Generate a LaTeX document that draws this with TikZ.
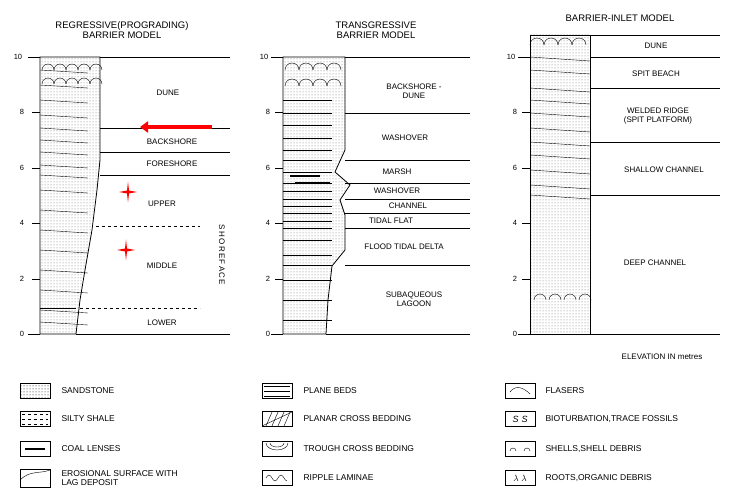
\documentclass[tikz,border=0pt]{standalone}
\usepackage{fontspec}
\setmainfont{Liberation Sans}
\usetikzlibrary{patterns,arrows.meta}
\begin{document}
\begin{tikzpicture}[x=1pt,y=-1pt,
  lbl/.style={font=\fontsize{8}{9.5}\selectfont,align=center},
  ttl/.style={font=\fontsize{9.5}{10.5}\selectfont,align=center},
  tk/.style={font=\fontsize{7.5}{8}\selectfont},
  lg/.style={draw,minimum width=30pt,minimum height=15pt,inner sep=0pt},
  lgt/.style={font=\fontsize{8.5}{9.5}\selectfont,anchor=west,align=left},
  logb/.style={draw,thick,pattern=dots,pattern color=black!55},
  bed/.style={thin}]
\useasboundingbox (0,0) rectangle (734,497);
\fill[white] (0,0) rectangle (734,497);
% titles
\node[ttl] (t1) at (122,30) {REGRESSIVE(PROGRADING)\\BARRIER MODEL};
\node[ttl] (t2) at (376,30) {TRANSGRESSIVE\\BARRIER MODEL};
\node[ttl] (t3) at (620,18) {BARRIER-INLET MODEL};
% ===== column 1 =====
\draw[logb] (40,334) -- (40,57) -- (100,57) -- (100,160) -- (97,190) -- (92,230) -- (85,270) -- (80,300) -- (76,334) -- cycle;
\foreach \y in {70,85,100,115,128,140,152,165,175,190,210,230,250,270,290,310,322}{\draw[bed] (40,\y) -- (88,\y+3);}
\foreach \x in {48,60,72,84,96}{\draw (\x-6,70) arc (180:360:6);}
\foreach \x in {48,60,72,84,96}{\draw (\x-6,84) arc (180:360:6);}
\draw (40,308) -- (76,308);
\draw (40,57) -- (28,57) (40,112) -- (32,112) (40,168) -- (32,168) (40,223) -- (32,223) (40,279) -- (32,279) (40,334) -- (28,334);
\node[tk] (a10) at (18,57) {10};\node[tk] (a8) at (22,112) {8};\node[tk] (a6) at (22,168) {6};
\node[tk] (a4) at (22,223) {4};\node[tk] (a2) at (22,279) {2};\node[tk] (a0) at (22,334) {0};
\foreach \y in {57,128,152,175}{\draw (100,\y) -- (230,\y);}
\draw[dashed] (96,226) -- (200,226);
\draw[dashed] (80,308) -- (200,308);
\draw (76,334) -- (230,334);
\node[lbl] (d1) at (168,93) {DUNE};
\node[lbl] (bs) at (172,142) {BACKSHORE};
\node[lbl] (fs) at (172,164) {FORESHORE};
\node[lbl] (up) at (162,204) {UPPER};
\node[lbl] (mi) at (162,266) {MIDDLE};
\node[lbl] (lo) at (162,323) {LOWER};
\node[lbl,rotate=-90] (sf) at (222,255) {S\,H\,O\,R\,E\,F\,A\,C\,E};
\draw[red,line width=3.5pt,-{Triangle[length=8pt,width=11pt]}] (212,127) -- (140,127);
\foreach \p in {(128,192),(126,250)}{
 \fill[red] \p ++(-9,0) -- ++(8,-1.5) -- ++(1,-9) -- ++(1,9) -- ++(8,1.5) -- ++(-8,1.5) -- ++(-1,9) -- ++(-1,-9) -- cycle;}
% ===== column 2 =====
\draw[logb] (283,334) -- (283,57) -- (345,57) -- (345,150) -- (335,172) -- (350,185) -- (340,200) -- (345,215) -- (345,250) -- (332,266) -- (328,300) -- (326,334) -- cycle;
\foreach \x in {292,306,320,334}{\draw (\x-7,70) arc (180:360:7);}
\foreach \x in {292,306,320,334}{\draw (\x-7,86) arc (180:360:7);}
\foreach \y in {100,113,125,138,150,160,172,183,191,199,206,213,221,228,240,255,265,280,300,320}{\draw[bed] (283,\y) -- (332,\y);}
\draw[line width=2pt] (290,176) -- (320,176) (295,183) -- (330,183);
\draw (283,57) -- (271,57) (283,112) -- (275,112) (283,168) -- (275,168) (283,223) -- (275,223) (283,279) -- (275,279) (283,334) -- (271,334);
\node[tk] (b10) at (264,57) {10};\node[tk] (b8) at (268,112) {8};\node[tk] (b6) at (268,168) {6};
\node[tk] (b4) at (268,223) {4};\node[tk] (b2) at (268,279) {2};\node[tk] (b0) at (268,334) {0};
\foreach \y in {57,113,160,199,213,228,265}{\draw (345,\y) -- (470,\y);}
\draw (345,183) -- (470,183);
\draw (326,334) -- (470,334);
\node[lbl] (bd) at (414,91) {BACKSHORE -\\DUNE};
\node[lbl] (wo1) at (405,138) {WASHOVER};
\node[lbl] (ma) at (397,172) {MARSH};
\node[lbl] (wo2) at (397,191) {WASHOVER};
\node[lbl] (ch) at (408,206) {CHANNEL};
\node[lbl] (tf) at (391,221) {TIDAL FLAT};
\node[lbl] (ftd) at (404,247) {FLOOD TIDAL DELTA};
\node[lbl] (sl) at (414,299) {SUBAQUEOUS\\LAGOON};
% ===== column 3 =====
\draw[logb] (530,334) -- (530,35) -- (590,35) -- (590,334) -- cycle;
\foreach \x in {537,551,565,579}{\draw (\x-7,45) arc (180:360:7);}
\foreach \y in {57,70,88,100,113,128,142,155,170,185,195}{\draw[bed] (530,\y) -- (590,\y+4);}
\foreach \x in {540,555,570,585}{\draw (\x-6,300) arc (180:360:6);}
\draw (530,57) -- (518,57) (530,112) -- (522,112) (530,168) -- (522,168) (530,223) -- (522,223) (530,279) -- (522,279) (530,334) -- (518,334);
\node[tk] (c10) at (511,57) {10};\node[tk] (c8) at (515,112) {8};\node[tk] (c6) at (515,168) {6};
\node[tk] (c4) at (515,223) {4};\node[tk] (c2) at (515,279) {2};\node[tk] (c0) at (515,334) {0};
\foreach \y in {35,57,88,142,195,334}{\draw (590,\y) -- (720,\y);}
\node[lbl] (du3) at (656,46) {DUNE};
\node[lbl] (sb) at (656,74) {SPIT BEACH};
\node[lbl] (wr) at (658,116) {WELDED RIDGE\\(SPIT PLATFORM)};
\node[lbl] (sc) at (664,170) {SHALLOW CHANNEL};
\node[lbl] (dc) at (655,263) {DEEP CHANNEL};
\node[lbl] (el) at (662,357) {ELEVATION IN metres};
% ===== legend =====
\node[lg,pattern=dots] (l1) at (35,391) {};\node[lgt] (l1t) at (58,391) {SANDSTONE};
\node[lg] (l2) at (35,419) {};\foreach \y in {414,419,424}{\draw[dashed] (22,\y) -- (48,\y);}
\node[lgt] (l2t) at (58,419) {SILTY SHALE};
\node[lg] (l3) at (35,449) {};\draw[line width=2.5pt] (25,449) -- (45,449);\node[lgt] (l3t) at (58,449) {COAL LENSES};
\node[lg,minimum height=18pt] (l4) at (35,478) {};\draw (20,480) .. controls (30,470) and (40,474) .. (50,470);
\node[lgt] (l4t) at (58,478) {EROSIONAL SURFACE WITH\\LAG DEPOSIT};
\node[lg] (m1) at (277,391) {};\foreach \y in {386,391,396}{\draw (264,\y) -- (290,\y);}\node[lgt] (m1t) at (300,391) {PLANE BEDS};
\node[lg] (m2) at (277,419) {};\foreach \x in {266,272,278,284}{\draw (\x,426) -- (\x+6,412);}\draw (262,426) -- (292,412);
\node[lgt] (m2t) at (300,419) {PLANAR CROSS BEDDING};
\node[lg] (m3) at (277,449) {};\draw (266,443) arc (180:0:11 and 7);\draw (270,443) arc (180:0:7 and 4);
\node[lgt] (m3t) at (300,449) {TROUGH CROSS BEDDING};
\node[lg] (m4) at (277,478) {};\draw (266,478) sin (269,475) cos (272,478) sin (275,481) cos (278,478) sin (281,475) cos (284,478) sin (287,481);
\node[lgt] (m4t) at (300,478) {RIPPLE LAMINAE};
\node[lg] (r1) at (520,391) {};\draw (510,392) .. controls (516,384) and (524,388) .. (530,394);\node[lgt] (r1t) at (542,391) {FLASERS};
\node[lg] (r2) at (520,419) {};\node[font=\small] (r2s) at (520,419) {\textit{S\,\,S}};\node[lgt] (r2t) at (542,419) {BIOTURBATION,TRACE FOSSILS};
\node[lg] (r3) at (520,449) {};\draw (510,451) arc (180:360:3);\draw (524,451) arc (180:360:3);\node[lgt] (r3t) at (542,449) {SHELLS,SHELL DEBRIS};
\node[lg] (r4) at (520,478) {};\node[font=\small] (r4s) at (520,478) {$\lambda\;\lambda$};\node[lgt] (r4t) at (542,478) {ROOTS,ORGANIC DEBRIS};
\end{tikzpicture}
\end{document}
